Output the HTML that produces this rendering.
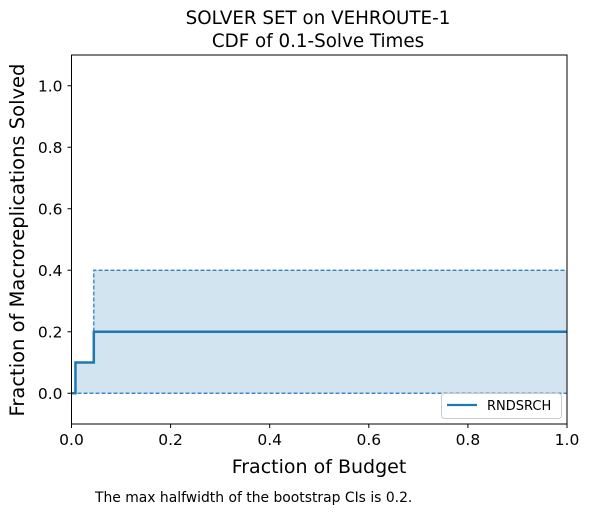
<!DOCTYPE html>
<html><head><meta charset="utf-8"><style>
body{margin:0;background:#fff;font-family:"Liberation Sans","DejaVu Sans",sans-serif}
svg text{font-family:"DejaVu Sans","Liberation Sans",sans-serif}
</style></head><body>
<svg id="chart" width="589" height="514" xmlns="http://www.w3.org/2000/svg">
<rect width="589" height="514" fill="#fff"/>
<g id="marks"></g>
<g id="axes"></g>
<text x="318" y="24" text-anchor="middle" font-size="18.3">SOLVER SET on VEHROUTE-1</text>
<text x="318" y="47" text-anchor="middle" font-size="18.3">CDF of 0.1-Solve Times</text>
<text x="319" y="473" text-anchor="middle" font-size="19">Fraction of Budget</text>
<text transform="translate(24,240) rotate(-90)" text-anchor="middle" font-size="19.5">Fraction of Macroreplications Solved</text>
<text x="95" y="502" font-size="13.9">The max halfwidth of the bootstrap CIs is 0.2.</text>
<g>
<rect x="441.5" y="393.5" width="120" height="25" rx="3" fill="#fff" fill-opacity="0.8" stroke="#ccc"/>
<line x1="447" y1="405" x2="477" y2="405" stroke="#1f77b4" stroke-width="2.2"/>
<text x="487" y="410" font-size="13">RNDSRCH</text>
</g>
</svg>
<script>
const stepX=[0,0.008,0.045,1];
const cdfY=[0,0.1,0.2,0.2];
const upperY=[0,0.1,0.4,0.4];
const lowerY=[0,0,0,0];
const xTicks=[0,0.2,0.4,0.6,0.8,1.0];
const yTicks=[0,0.2,0.4,0.6,0.8,1.0];
const L=71.5,R=567,T=55,B=424;
const sx=v=>L+(v-0)/(1-0)*(R-L);
const sy=v=>B-(v+0.1)/1.2*(B-T);
const NS="http://www.w3.org/2000/svg";
function stepPath(xs,ys){let d=`M${sx(xs[0])},${sy(ys[0])}`;for(let i=1;i<xs.length;i++){d+=` L${sx(xs[i])},${sy(ys[i-1])} L${sx(xs[i])},${sy(ys[i])}`;}return d;}
const marks=document.getElementById('marks');
function mk(tag,attrs){const e=document.createElementNS(NS,tag);for(const k in attrs)e.setAttribute(k,attrs[k]);return e;}
let up=stepPath(stepX,upperY);
let lowRev='';for(let i=stepX.length-1;i>=0;i--){lowRev+=` L${sx(stepX[i])},${sy(lowerY[i])}`;}
const fill=mk('path',{d:up+lowRev+' Z',fill:'#1f77b4','fill-opacity':0.2});


marks.appendChild(fill);
const upl=mk('path',{d:up,fill:'none',stroke:'#1f77b4','stroke-width':1.2,'stroke-dasharray':'4,2'});


marks.appendChild(upl);
const lol=mk('path',{d:stepPath(stepX,lowerY),fill:'none',stroke:'#1f77b4','stroke-width':1.2,'stroke-dasharray':'4,2'});


marks.appendChild(lol);
const cl=mk('path',{d:stepPath(stepX,cdfY),fill:'none',stroke:'#1f77b4','stroke-width':2.5});


marks.appendChild(cl);
const ax=document.getElementById('axes');
const frame=mk('rect',{x:L,y:T,width:R-L,height:B-T,fill:'none',stroke:'#000','stroke-width':1});


ax.appendChild(frame);
xTicks.forEach(v=>{
 const t=mk('line',{x1:sx(v),x2:sx(v),y1:B,y2:B+4,stroke:'#000'});
 
 
 ax.appendChild(t);
 const l=mk('text',{x:sx(v),y:B+21,'text-anchor':'middle','font-size':15.5});
 
 
 l.textContent=v.toFixed(1);ax.appendChild(l);
});
yTicks.forEach(v=>{
 const t=mk('line',{x1:L-4,x2:L,y1:sy(v),y2:sy(v),stroke:'#000'});
 
 
 ax.appendChild(t);
 const l=mk('text',{x:L-9,y:sy(v)+5.5,'text-anchor':'end','font-size':15.5});
 
 
 l.textContent=v.toFixed(1);ax.appendChild(l);
});
</script>
</body></html>
